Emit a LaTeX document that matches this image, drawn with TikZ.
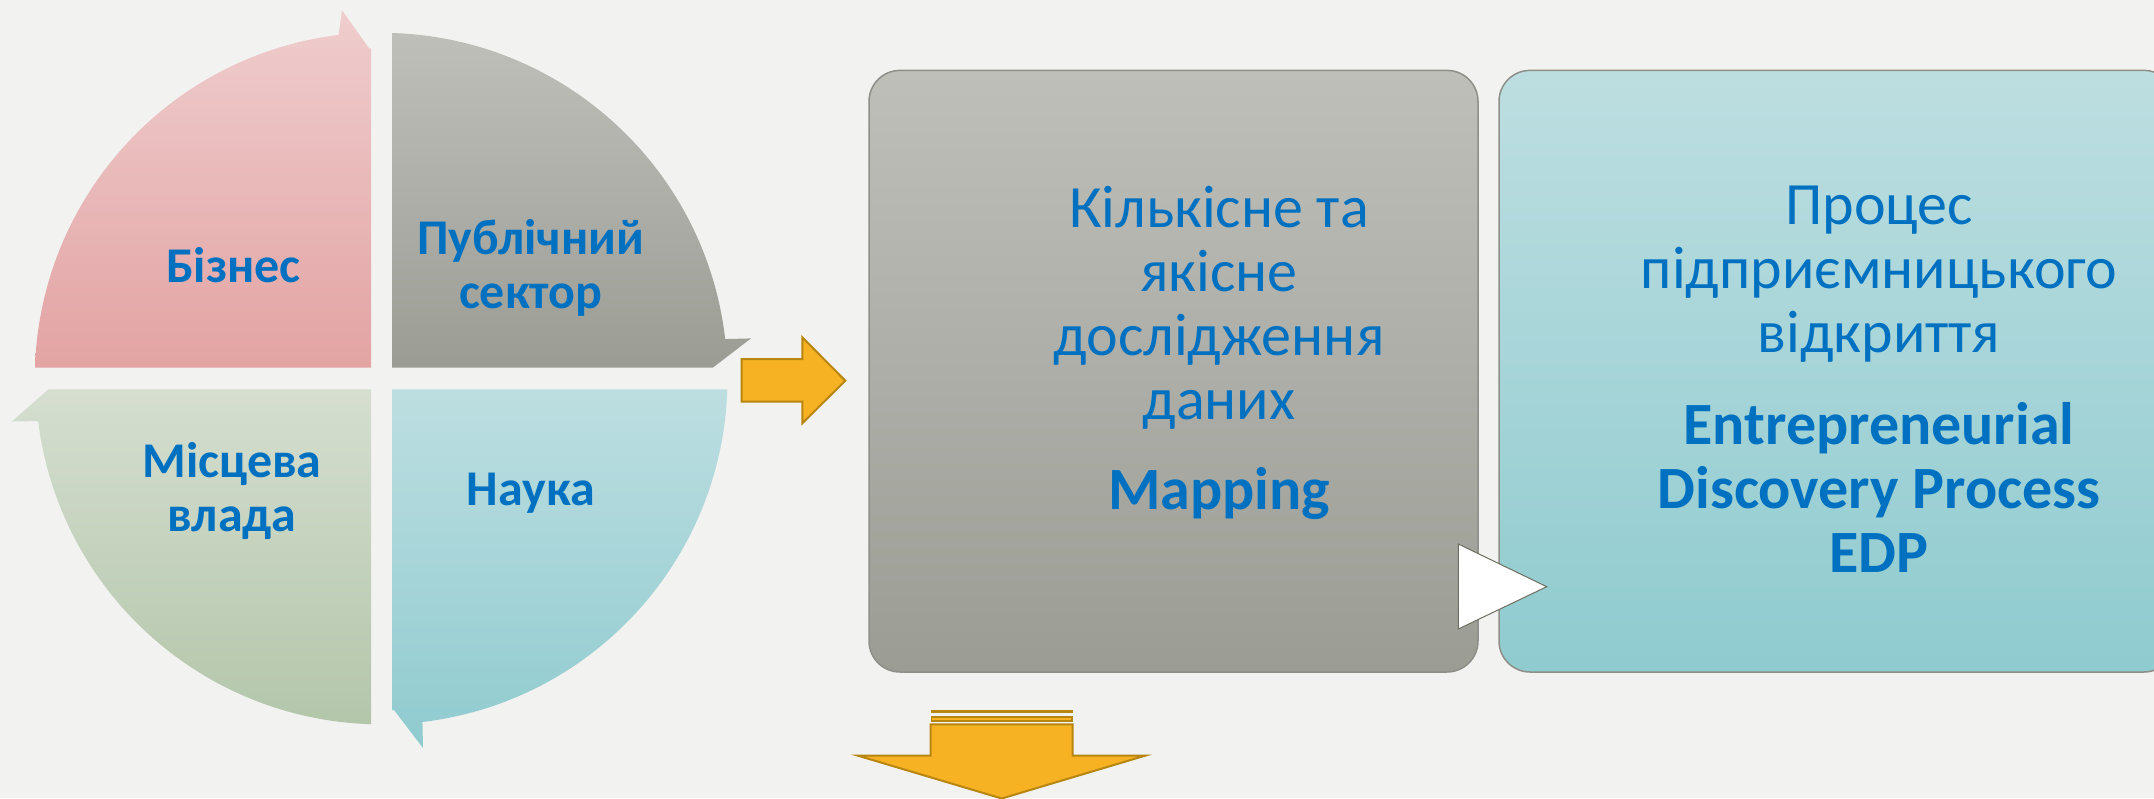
\documentclass[tikz,border=0pt]{standalone}
\usepackage{fontspec}
\setmainfont{Carlito}
\definecolor{bgc}{HTML}{F2F2F0}
\definecolor{txtblue}{HTML}{0070C0}
\definecolor{pinkT}{HTML}{EFCDCE}
\definecolor{pinkB}{HTML}{E3A3A3}
\definecolor{grayT}{HTML}{BEBFB9}
\definecolor{grayB}{HTML}{9B9D95}
\definecolor{greenT}{HTML}{D5DED0}
\definecolor{greenB}{HTML}{B3C6AA}
\definecolor{cyanT}{HTML}{BDDEE1}
\definecolor{cyanB}{HTML}{8FCBCF}
\definecolor{orangeF}{HTML}{F6B223}
\definecolor{orangeD}{HTML}{B8860F}
\definecolor{boxline}{HTML}{8E8F88}
\definecolor{triline}{HTML}{6E6E60}
\tikzset{
  quadlabel/.style={text=txtblue, align=center, anchor=base, inner sep=0pt,
    font=\fontsize{50}{54}\selectfont\bfseries},
  boxlabel/.style={text=txtblue, align=center, anchor=base, inner sep=0pt,
    font=\fontsize{60}{64}\selectfont},
  roundbox/.style={draw=boxline, line width=1.5pt, rounded corners=31pt,
    inner sep=0pt},
  blockarrow/.style={fill=orangeF, draw=orangeD, line width=2pt, line join=miter},
}
\begin{document}
\begin{tikzpicture}[x=1pt,y=-1pt]
\useasboundingbox (0,0) rectangle (2154,798);
\fill[bgc] (0,0) rectangle (2154,798);

% quadrants of the cycle
\path[top color=pinkT, bottom color=pinkB]
  (371,367.5) -- (35,367.5) arc[start angle=181.8, end angle=263, radius=346]
  -- (342,10.2) -- (369,48.3) -- (371,48.3) -- cycle;
\path[top color=grayT, bottom color=grayB]
  (392,33) arc[start angle=271.74, end angle=353.4, radius=346]
  -- (751,338.4) -- (713,367.5) -- (392,367.5) -- cycle;
\path[top color=cyanT, bottom color=cyanB]
  (392,389.3) -- (727.3,389.3) arc[start angle=1.8, end angle=83.2, radius=346]
  -- (423,748) -- (394,710) -- (392,710) -- cycle;
\path[top color=greenT, bottom color=greenB]
  (371,389.3) -- (371,724.2) arc[start angle=91.74, end angle=172.9, radius=346]
  -- (12,421.4) -- (48.5,389.3) -- cycle;

\node[quadlabel] (biz) at (233.4,282.4) {Бізнес};
\node[quadlabel] (pub) at (530.8,308) {Публічний\\сектор};
\node[quadlabel] (loc) at (232,531.8) {Місцева\\влада};
\node[quadlabel] (sci) at (530.9,505) {Наука};

% right block arrow
\path[blockarrow] (741.7,359) -- (802.3,359) -- (802.3,337.3) -- (845.3,380.7)
  -- (802.3,423.3) -- (802.3,401.7) -- (741.7,401.7) -- cycle;

% boxes
\node[roundbox, top color=grayT, bottom color=grayB,
  minimum width=609pt, minimum height=601.6pt] (map) at (1173.5,371.2) {};
\node[roundbox, top color=cyanT, bottom color=cyanB,
  minimum width=676pt, minimum height=601.6pt] (edp) at (1837,371.2) {};

\node[boxlabel] (maptxt) at (1219,509)
  {Кількісне та\\якісне\\дослідження\\даних\\[26pt]\textbf{Mapping}};
\node[boxlabel] (edptxt) at (1879,572.5)
  {Процес\\підприємницького\\відкриття\\[28pt]\textbf{Entrepreneurial}\\\textbf{Discovery Process}\\\textbf{EDP}};

% white triangle
\draw[fill=white, draw=triline, line width=1pt, line join=miter]
  (1458.3,544) -- (1546.7,586.7) -- (1458.3,629) -- cycle;

% down block arrow (striped)
\fill[orangeD] (930.7,710) rectangle (1073,712.8);
\path[fill=orangeF, draw=orangeD, line width=1.6pt] (931.5,716.8) rectangle (1072.2,721.2);
\path[blockarrow] (930.7,724.3) -- (1072.7,724.3) -- (1072.7,755.7) -- (1145,755.7)
  -- (1001.7,798.5) -- (858,755.7) -- (930.7,755.7) -- cycle;
\end{tikzpicture}
\end{document}
